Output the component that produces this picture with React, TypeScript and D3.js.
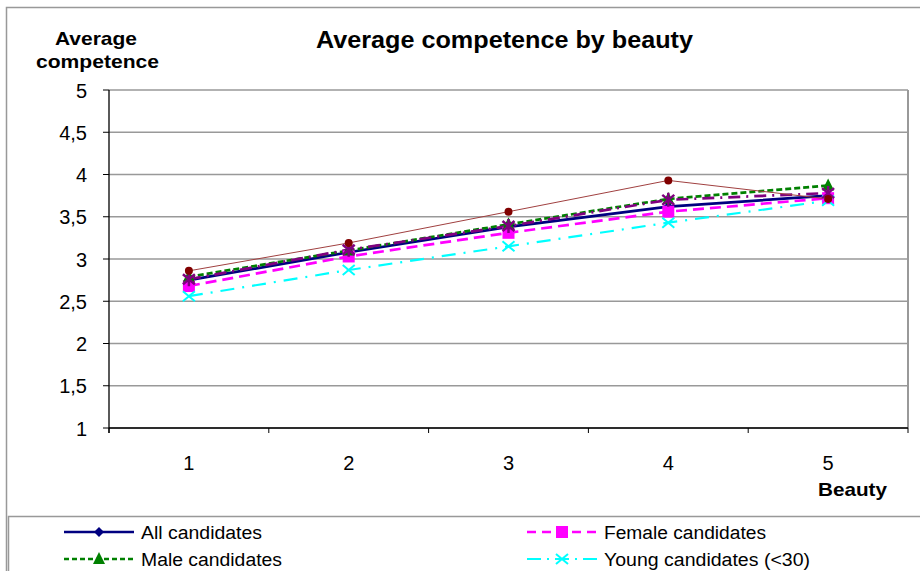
import React from "react";
import * as d3 from "d3";

const categories = [1, 2, 3, 4, 5];
const yTicks = [1, 1.5, 2, 2.5, 3, 3.5, 4, 4.5, 5];

const allCandidates = [2.75, 3.08, 3.38, 3.62, 3.75];
const femaleCandidates = [2.68, 3.03, 3.31, 3.56, 3.72];
const maleCandidates = [2.79, 3.1, 3.41, 3.71, 3.87];
const youngCandidates = [2.56, 2.87, 3.15, 3.43, 3.69];
const purpleSeries = [2.76, 3.11, 3.39, 3.7, 3.78];
const redSeries = [2.86, 3.19, 3.56, 3.93, 3.71];

type Series = {
  name: string;
  values: number[];
  color: string;
  lineColor?: string;
  width: number;
  dash?: string;
  legendDash?: string;
  textWidth?: number;
  marker: "diamond" | "square" | "triangle" | "x" | "star" | "circle";
};

const series: Series[] = [
  { name: "All candidates", values: allCandidates, color: "#000080", width: 2.7, marker: "diamond", textWidth: 121 },
  { name: "Female candidates", values: femaleCandidates, color: "#FF00FF", width: 2.7, dash: "11,6", legendDash: "9,6", marker: "square", textWidth: 162 },
  { name: "Male candidates", values: maleCandidates, color: "#008000", width: 2.7, dash: "6,3", legendDash: "5,3", marker: "triangle", textWidth: 141 },
  { name: "Young candidates (<30)", values: youngCandidates, color: "#00FFFF", width: 2.2, dash: "14,8,2,8", legendDash: "14,6,2,6", marker: "x", textWidth: 206 },
  { name: "Purple", values: purpleSeries, color: "#800080", width: 2.7, dash: "12,6,2,6", marker: "star" },
  { name: "Red", values: redSeries, color: "#800000", lineColor: "#A04040", width: 1, marker: "circle" },
];

const legendItems = series.slice(0, 4);

const FONT = "'Liberation Sans', Arial, sans-serif";

const left = 109;
const right = 908;
const top = 90;
const bottom = 428;

function Marker({ type, x, y, color }: { type: Series["marker"]; x: number; y: number; color: string }) {
  switch (type) {
    case "diamond":
      return <path d={`M${x},${y - 5}L${x + 5},${y}L${x},${y + 5}L${x - 5},${y}Z`} fill={color} />;
    case "square":
      return <rect x={x - 6} y={y - 6} width={12} height={12} fill={color} />;
    case "triangle":
      return <path d={`M${x},${y - 7}L${x + 6},${y + 5}L${x - 6},${y + 5}Z`} fill={color} />;
    case "x":
      return (
        <path
          d={`M${x - 6},${y - 5}L${x + 6},${y + 5}M${x - 6},${y + 5}L${x + 6},${y - 5}`}
          stroke={color}
          strokeWidth={2}
        />
      );
    case "star":
      return (
        <path
          d={`M${x - 6},${y - 5}L${x + 6},${y + 5}M${x - 6},${y + 5}L${x + 6},${y - 5}M${x},${y - 7}L${x},${y + 7}`}
          stroke={color}
          strokeWidth={2.5}
        />
      );
    case "circle":
      return <circle cx={x} cy={y} r={4} fill={color} />;
  }
}

export default function App() {
  const x = d3.scaleBand<number>().domain(categories).range([left, right]);
  const y = d3.scaleLinear().domain([1, 5]).range([bottom, top]);
  const cx = (c: number) => (x(c) as number) + x.bandwidth() / 2;

  const line = d3
    .line<number>()
    .x((_, i) => cx(categories[i]))
    .y((v) => y(v));

  const boundaries = categories.map((c) => x(c) as number).concat([right]);

  return (
    <svg width={920} height={571} style={{ position: "absolute", left: 0, top: 0 }} fontFamily={FONT}>
      <rect x={0} y={0} width={920} height={571} fill="#fff" />
      {/* chart frame */}
      <rect x={6.5} y={7.5} width={940} height={600} fill="none" stroke="#999" strokeWidth={1.5} />

      {/* titles */}
      <text x={316} y={48} fontSize={23} fontWeight="bold" textLength={377} lengthAdjust="spacingAndGlyphs">
        Average competence by beauty
      </text>
      <text x={55} y={45} fontSize={19} fontWeight="bold" textLength={82} lengthAdjust="spacingAndGlyphs">
        Average
      </text>
      <text x={36} y={68} fontSize={19} fontWeight="bold" textLength={123} lengthAdjust="spacingAndGlyphs">
        competence
      </text>

      {/* gridlines */}
      {yTicks.map((t) => (
        <line key={t} x1={left} x2={right} y1={y(t)} y2={y(t)} stroke="#999" strokeWidth={1.5} />
      ))}
      <line x1={right} x2={right} y1={top} y2={bottom} stroke="#999" strokeWidth={2} />

      {/* axes */}
      <line x1={left} x2={left} y1={top} y2={bottom + 5} stroke="#000" strokeWidth={1.3} />
      <line x1={left} x2={right} y1={bottom} y2={bottom} stroke="#000" strokeWidth={1.3} />
      {yTicks.map((t) => (
        <g key={t}>
          <line x1={left - 6} x2={left} y1={y(t)} y2={y(t)} stroke="#000" strokeWidth={1} />
          <text x={87} y={y(t) + 7.5} textAnchor="end" fontSize={20}>
            {String(t).replace(".", ",")}
          </text>
        </g>
      ))}
      {boundaries.map((b, i) => (
        <line key={i} x1={b} x2={b} y1={bottom} y2={bottom + 5} stroke="#000" strokeWidth={1} />
      ))}
      {categories.map((c) => (
        <text key={c} x={cx(c)} y={470} textAnchor="middle" fontSize={20}>
          {c}
        </text>
      ))}
      <text x={818} y={496} fontSize={19} fontWeight="bold" textLength={69} lengthAdjust="spacingAndGlyphs">
        Beauty
      </text>

      {/* series lines */}
      {series.map((s) => (
        <path
          key={s.name}
          d={line(s.values) as string}
          fill="none"
          stroke={s.lineColor ?? s.color}
          strokeWidth={s.width}
          strokeDasharray={s.dash}
        />
      ))}
      {series.map((s) =>
        s.values.map((v, i) => (
          <Marker key={s.name + i} type={s.marker} x={cx(categories[i])} y={y(v)} color={s.color} />
        ))
      )}

      {/* legend */}
      <rect x={8.5} y={516.5} width={940} height={100} fill="#fff" stroke="#999" strokeWidth={1.5} />
      {legendItems.map((s, i) => {
        const lx = i % 2 === 0 ? 64 : 527;
        const ly = i < 2 ? 532 : 559;
        const mx = lx + 35;
        return (
          <g key={s.name}>
            <line x1={lx} x2={lx + 70} y1={ly} y2={ly} stroke={s.color} strokeWidth={s.width} strokeDasharray={s.legendDash} />
            <Marker type={s.marker} x={mx} y={ly} color={s.color} />
            <text x={lx + 77} y={ly + 6.5} fontSize={18} textLength={s.textWidth} lengthAdjust="spacingAndGlyphs">
              {s.name}
            </text>
          </g>
        );
      })}
    </svg>
  );
}
